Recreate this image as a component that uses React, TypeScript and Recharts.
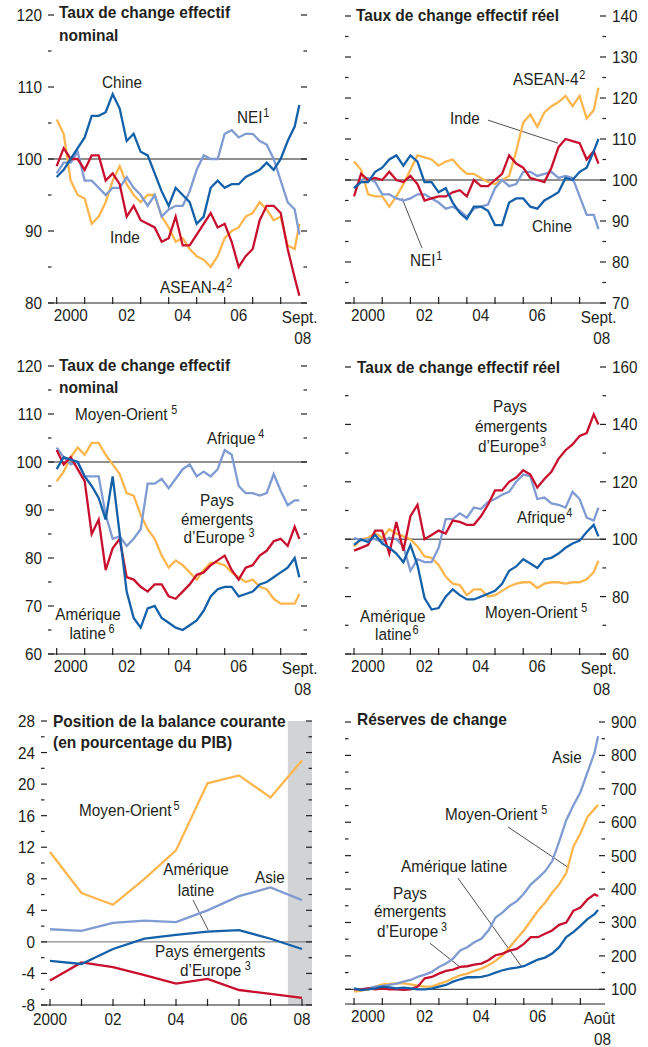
import React from "react";
import {
  LineChart,
  Line,
  XAxis,
  YAxis,
  ReferenceLine,
  ReferenceArea,
} from "recharts";

const SANS = "'Liberation Sans', Arial, sans-serif";
const INK = "#231f20";
const DARK_BLUE = "#1461a9";
const RED = "#c8102e";
const ORANGE = "#fdb64e";
const LIGHT_BLUE = "#7f9bd2";
const BAND = "#d1d3d4";

const PAGE_W = 648;
const PAGE_H = 1047;

// ---- time grids ----
const SEPT_08 = 2008 + 8 / 12;
const AOUT_08 = 2008 + 7.5 / 12;
const yearTicks = [2000, 2001, 2002, 2003, 2004, 2005, 2006, 2007, 2008];
const annualYears = [2000, 2001, 2002, 2003, 2004, 2005, 2006, 2007, 2008];

// quarterly points from 2000 T1, last point = end month
const quarterGrid = (last: number) =>
  Array.from({ length: 36 }, (_, i) => (i < 35 ? 2000 + i / 4 : last));

// ---- Asie : taux de change effectif nominal ----
const nomChine = [97.5, 98.5, 100, 101.5, 103, 106, 106, 106.5, 109, 107, 102.5, 103.5, 101, 100.5, 98, 95.5, 93.5, 96, 95, 94, 91, 92, 96, 97, 96, 96.5, 96.5, 97.5, 98, 98.5, 99.5, 98.5, 100, 102.5, 104.5, 107.5];
const nomNei = [98, 99.5, 99.5, 101, 97, 97, 96, 95, 96, 96, 97.5, 96, 95, 93.5, 95, 92, 93, 93.5, 93.5, 95.5, 98.5, 100.5, 100, 100, 103.5, 104, 103, 103.5, 103.5, 102.5, 102, 100, 97, 94, 93, 89.5];
const nomInde = [99, 101.5, 100, 100, 98.5, 100.5, 100.5, 97, 98, 96.5, 92, 93.5, 91.5, 91, 90.5, 88.5, 89, 92, 88, 88, 89.5, 91, 92.5, 90.5, 91, 88.5, 85, 86.5, 87.5, 91.5, 93.5, 93.5, 92.5, 87.5, 83.5, 81];
const nomAsean = [105.5, 103.5, 97, 95, 94.5, 91, 92, 94, 97, 99, 96.5, 95, 94, 95, 95, 92, 90.5, 88.5, 89, 87.5, 86.5, 86, 85, 86.5, 89, 90, 90.5, 92, 92.5, 94, 93, 91.5, 92, 88, 87.5, 91];

// ---- Asie : taux de change effectif réel ----
const reelAsean = [104.5, 102.5, 96.5, 96, 96, 93.5, 96, 99, 102.5, 106, 105.5, 105, 103.5, 104.5, 105, 103, 101.5, 101.5, 100.5, 99.5, 99, 100, 101, 107, 114, 116, 113, 116.5, 118, 119, 120.5, 118, 120.5, 115, 117, 122.5];
const reelInde = [96, 101.5, 100, 100.5, 100, 102, 100, 99.5, 101, 99, 95, 95.5, 96, 96, 97, 97.5, 96, 100, 98.5, 98.5, 100, 101.5, 106, 104, 103, 100.5, 100, 99.5, 103, 108, 110, 109.5, 109, 105, 107, 104];
const reelChine = [98, 99.5, 99.5, 102, 103, 105, 106, 103.5, 106, 104.5, 99.5, 99.5, 97, 98, 94.5, 92, 90.5, 93.5, 93.5, 92.5, 89, 89, 94.5, 95.5, 95.5, 93.5, 93, 95, 96, 97, 100.5, 100, 102, 103, 107, 110];
const reelNei = [98, 100, 100.5, 99.5, 96.5, 96.5, 95.5, 95, 95.5, 96.5, 96.5, 95.5, 94.5, 93, 93.5, 92.5, 91, 93, 93.5, 94, 98, 100, 98.5, 99, 102, 102, 101, 101.5, 102, 100.5, 101, 100.5, 96, 91.5, 91.5, 88];

// ---- autres régions : nominal ----
const nomMoyenOrient = [96, 98, 101, 103, 101.5, 104, 104, 101.5, 99.5, 97.5, 93.5, 93, 89, 86, 84, 80.5, 78, 79.5, 78.5, 77, 75.5, 77.5, 79, 79, 78.5, 77, 76, 75, 75.5, 74, 73.5, 71.5, 70.5, 70.5, 70.5, 72.5];
const nomAfrique = [103, 101, 99.5, 100, 97, 97, 97, 89, 84, 84.5, 82.5, 84, 86, 95.5, 95.5, 96.5, 94.5, 96.5, 98.5, 99.5, 97, 98, 97, 98.5, 102.5, 101.5, 95, 93.5, 93.5, 93, 93.5, 97.5, 94, 91, 92, 92];
const nomEurope = [102.5, 99.5, 101, 98.5, 96, 85, 88, 77.5, 82, 84, 76, 75.5, 74, 73, 74.5, 74.5, 72, 71.5, 73, 74.5, 76.5, 77, 78.5, 79.5, 80.5, 77.5, 75.5, 78, 78.5, 80.5, 81.5, 83.5, 84, 82.5, 86.5, 84];
const nomAmLatine = [98.5, 101, 100.5, 100, 97, 95, 92.5, 88, 97, 85, 73, 67.5, 65.5, 69.5, 70, 67.5, 66.5, 65.5, 65, 66, 67, 69, 72, 73.5, 74, 74, 72, 72.5, 73, 74.5, 75, 76, 77, 78, 80, 76];

// ---- autres régions : réel ----
const reelEurope = [96, 97, 98, 103, 103, 95, 106, 96, 108, 112, 100, 101.5, 103, 102, 106.5, 106, 105, 105, 108, 112, 117, 117, 120, 121.5, 124, 122.5, 118, 121, 123.5, 128, 131, 133, 136, 137, 143.5, 140];
const reelAfrique = [100.5, 99.5, 100, 100, 99, 100.5, 100, 97.5, 89, 93, 92, 92, 97, 107, 107, 109, 107.5, 111, 110.5, 113, 114, 115.5, 116.5, 120, 122.5, 122, 114, 114.5, 112.5, 112, 111, 116.5, 114, 107.5, 106.5, 111];
const reelMoyenOrient = [97.5, 100, 100.5, 102, 100.5, 103.5, 102, 101, 100, 97.5, 94, 93.5, 91, 87, 84.5, 84, 80.5, 82.5, 82.5, 80, 80.5, 82, 83.5, 84.5, 85, 85, 83, 84.5, 85, 85, 84.5, 85, 85, 86, 88.5, 92.5];
const reelAmLatine = [98, 100, 99, 101.5, 98.5, 97, 95, 92, 98, 91, 79.5, 75.5, 76, 80, 82.5, 80.5, 79, 79, 80, 81, 82, 84.5, 89, 90.5, 93, 91.5, 90, 93, 93.5, 95, 97, 98.5, 99.5, 102.5, 105, 101];

// ---- balance courante (% du PIB), annuel ----
const bcMoyenOrient = [11.4, 6.2, 4.7, 8.0, 11.6, 20.1, 21.1, 18.3, 23.0];
const bcAsie = [1.6, 1.4, 2.4, 2.7, 2.5, 4.0, 5.8, 6.9, 5.3];
const bcAmLatine = [-2.4, -2.8, -0.9, 0.4, 0.9, 1.3, 1.5, 0.4, -0.9];
const bcEurope = [-4.9, -2.6, -3.2, -4.2, -5.3, -4.7, -6.1, -6.6, -7.1];

// ---- réserves de change ----
const resAsie = [100, 100, 103, 108, 110, 113, 117, 123, 128, 137, 144, 152, 167, 177, 192, 216, 226, 241, 251, 276, 315, 330, 350, 364, 386, 414, 433, 453, 483, 542, 606, 650, 690, 749, 808, 857];
const resMoyenOrient = [93, 96, 100, 108, 115, 116, 118, 118, 115, 111, 108, 108, 116, 123, 133, 142, 147, 155, 162, 172, 185, 202, 226, 251, 276, 305, 335, 359, 389, 414, 448, 527, 566, 616, 640, 652];
const resEurope = [100, 100, 103, 100, 103, 100, 100, 98, 100, 108, 133, 137, 147, 155, 159, 167, 169, 174, 177, 187, 202, 207, 216, 221, 236, 256, 256, 266, 276, 293, 300, 335, 345, 369, 384, 379];
const resAmLatine = [103, 98, 100, 103, 108, 106, 103, 105, 103, 100, 100, 102, 108, 113, 123, 130, 136, 136, 137, 142, 150, 157, 162, 165, 169, 179, 189, 195, 207, 226, 256, 271, 290, 310, 325, 337];

const range = (a: number, b: number, step: number) => {
  const out: number[] = [];
  for (let v = a; v <= b + 1e-9; v += step) out.push(Math.round(v * 100) / 100);
  return out;
};

const buildRows = (times: number[], cols: Record<string, number[]>) =>
  times.map((t, i) => {
    const row: Record<string, number> = { t };
    Object.keys(cols).forEach((k) => {
      row[k] = cols[k][i];
    });
    return row;
  });

// condensed text: Liberation Sans squeezed horizontally
function CText({
  x,
  y,
  anchor = "start",
  size = 17,
  bold = false,
  sx = 0.9,
  children,
}: {
  x: number;
  y: number;
  anchor?: "start" | "middle" | "end";
  size?: number;
  bold?: boolean;
  sx?: number;
  children: React.ReactNode;
}) {
  return (
    <text
      transform={`translate(${x},${y}) scale(${sx},1)`}
      textAnchor={anchor}
      fontFamily={SANS}
      fontSize={size}
      fontWeight={bold ? 700 : 400}
      fill={INK}
    >
      {children}
    </text>
  );
}

type Box = { left: number; right: number; top: number; bottom: number };
type Seg = [{ x: number; y: number }, { x: number; y: number }];

type PanelProps = {
  box: Box;
  data: Record<string, number>[];
  series: { key: string; color: string }[];
  xDomain: [number, number];
  xLabel: (year: number, x: number, y: number) => React.ReactNode;
  yDomain: [number, number];
  yTicks: number[];
  yMajor: number;
  side: "left" | "right";
  refY: number;
  refColor?: string;
  leaders?: Seg[];
  band?: [number, number];
};

const Y_W = 30;
const X_H = 30;

function Panel(p: PanelProps) {
  const { box } = p;
  const margin = {
    top: box.top,
    bottom: PAGE_H - box.bottom - X_H,
    left: p.side === "left" ? box.left - Y_W : box.left,
    right: p.side === "right" ? PAGE_W - box.right - Y_W : PAGE_W - box.right,
  };

  const yTick = (props: any) => {
    const y = props.y;
    const v = props.payload.value;
    const major = Math.abs(v % p.yMajor) < 1e-6;
    const len = major ? 6 : 3.5;
    return (
      <g>
        <line x1={box.left} x2={box.left + len} y1={y} y2={y} stroke={INK} strokeWidth={1.2} />
        <line x1={box.right - len} x2={box.right} y1={y} y2={y} stroke={INK} strokeWidth={1.2} />
        {major && (
          <CText
            x={p.side === "left" ? box.left - 6 : box.right + 6}
            y={y + 6}
            anchor={p.side === "left" ? "end" : "start"}
          >
            {v}
          </CText>
        )}
      </g>
    );
  };

  const xTick = (props: any) => {
    const x = props.x;
    return (
      <g>
        <line x1={x} x2={x} y1={box.bottom - 6} y2={box.bottom + 1} stroke={INK} strokeWidth={1.2} />
        {p.xLabel(props.payload.value, x, box.bottom)}
      </g>
    );
  };

  return (
    <div style={{ position: "absolute", left: 0, top: 0 }}>
      <LineChart width={PAGE_W} height={PAGE_H} data={p.data} margin={margin}>
        {p.band && (
          <ReferenceArea
            x1={p.band[0]}
            x2={p.band[1]}
            y1={p.yDomain[0]}
            y2={p.yDomain[1]}
            fill={BAND}
            fillOpacity={1}
            stroke="none"
            ifOverflow="visible"
          />
        )}
        <XAxis
          dataKey="t"
          type="number"
          domain={p.xDomain}
          allowDataOverflow
          ticks={yearTicks}
          interval={0}
          tickLine={false}
          tickSize={0}
          tickMargin={0}
          axisLine={{ stroke: INK, strokeWidth: 1.2 }}
          height={X_H}
          tick={xTick}
        />
        <YAxis
          type="number"
          orientation={p.side}
          domain={p.yDomain}
          allowDataOverflow
          ticks={p.yTicks}
          interval={0}
          tickLine={false}
          tickSize={0}
          tickMargin={0}
          axisLine={false}
          width={Y_W}
          tick={yTick}
        />
        <ReferenceLine y={p.refY} stroke={p.refColor ?? INK} strokeWidth={1} />
        {(p.leaders ?? []).map((s, i) => (
          <ReferenceLine key={i} segment={s} stroke={INK} strokeWidth={0.8} ifOverflow="visible" />
        ))}
        {p.series.map((s) => (
          <Line
            key={s.key}
            type="linear"
            dataKey={s.key}
            stroke={s.color}
            strokeWidth={2.3}
            dot={false}
            isAnimationActive={false}
          />
        ))}
      </LineChart>
    </div>
  );
}

const monthlyLabel = (endWord: string) => (year: number, x: number, y: number) => {
  if (year === 2008) {
    return (
      <g>
        <CText x={x + 19} y={y + 20} anchor="middle">{endWord}</CText>
        <CText x={x + 22} y={y + 41} anchor="middle">08</CText>
      </g>
    );
  }
  if (year % 2 !== 0) return null;
  const txt = year === 2000 ? "2000" : String(year).slice(2);
  return (
    <CText x={x + 14} y={y + 18} anchor="middle">
      {txt}
    </CText>
  );
};

const annualLabel = (year: number, x: number, y: number) => {
  if (year % 2 !== 0) return null;
  const txt = year === 2000 ? "2000" : String(year).slice(2);
  return (
    <CText x={x} y={y + 20} anchor="middle">
      {txt}
    </CText>
  );
};

type Lbl = { x: number; y: number; t: string; sup?: string; dx?: number; a?: "start" | "middle" | "end"; b?: boolean };

const texts: Lbl[] = [
  // titres
  { x: 59, y: 18, t: "Taux de change effectif", b: true },
  { x: 59, y: 41, t: "nominal", b: true },
  { x: 356, y: 21, t: "Taux de change effectif réel", b: true },
  { x: 59, y: 371, t: "Taux de change effectif", b: true },
  { x: 59, y: 393, t: "nominal", b: true },
  { x: 357, y: 373, t: "Taux de change effectif réel", b: true },
  { x: 53, y: 727, t: "Position de la balance courante", b: true },
  { x: 53, y: 748, t: "(en pourcentage du PIB)", b: true },
  { x: 357, y: 725, t: "Réserves de change", b: true },
  // panneau 1
  { x: 102, y: 88, t: "Chine" },
  { x: 237, y: 123, t: "NEI", sup: "1" },
  { x: 110, y: 243, t: "Inde" },
  { x: 160, y: 293, t: "ASEAN-4", sup: "2" },
  // panneau 2
  { x: 513, y: 85, t: "ASEAN-4", sup: "2" },
  { x: 450, y: 124, t: "Inde" },
  { x: 532, y: 232, t: "Chine" },
  { x: 410, y: 266, t: "NEI", sup: "1" },
  // panneau 3
  { x: 75, y: 420, t: "Moyen-Orient", sup: "5", dx: 4 },
  { x: 207, y: 444, t: "Afrique", sup: "4", dx: 3 },
  { x: 217, y: 506, t: "Pays", a: "middle" },
  { x: 217, y: 525, t: "émergents", a: "middle" },
  { x: 219, y: 543, t: "d’Europe", sup: "3", dx: 4, a: "middle" },
  { x: 88, y: 620, t: "Amérique", a: "middle" },
  { x: 92, y: 639, t: "latine", sup: "6", dx: 3, a: "middle" },
  // panneau 4
  { x: 510, y: 412, t: "Pays", a: "middle" },
  { x: 511, y: 432, t: "émergents", a: "middle" },
  { x: 512, y: 452, t: "d’Europe", sup: "3", a: "middle" },
  { x: 517, y: 523, t: "Afrique", sup: "4" },
  { x: 485, y: 618, t: "Moyen-Orient", sup: "5", dx: 4 },
  { x: 360, y: 622, t: "Amérique" },
  { x: 375, y: 640, t: "latine", sup: "6" },
  // panneau 5
  { x: 79, y: 816, t: "Moyen-Orient", sup: "5", dx: 2 },
  { x: 196, y: 875, t: "Amérique", a: "middle" },
  { x: 196, y: 896, t: "latine", a: "middle" },
  { x: 255, y: 883, t: "Asie" },
  { x: 155, y: 957, t: "Pays émergents" },
  { x: 180, y: 976, t: "d’Europe", sup: "3", dx: 4 },
  // panneau 6
  { x: 552, y: 763, t: "Asie" },
  { x: 445, y: 820, t: "Moyen-Orient", sup: "5", dx: 4 },
  { x: 401, y: 872, t: "Amérique latine" },
  { x: 410, y: 899, t: "Pays", a: "middle" },
  { x: 410, y: 917, t: "émergents", a: "middle" },
  { x: 377, y: 937, t: "d’Europe", sup: "3", dx: 3 },
];

function Overlay() {
  return (
    <svg
      width={PAGE_W}
      height={PAGE_H}
      style={{ position: "absolute", left: 0, top: 0, pointerEvents: "none" }}
    >
      {texts.map((l, i) => (
        <CText
          key={i}
          x={l.x}
          y={l.y}
          anchor={l.a ?? "start"}
          size={l.b ? 16.5 : 17}
          bold={l.b}
          sx={l.b ? 0.94 : 0.9}
        >
          {l.t}
          {l.sup && (
            <tspan dx={l.dx ?? 1} dy={-6} fontSize={12}>
              {l.sup}
            </tspan>
          )}
        </CText>
      ))}
    </svg>
  );
}

export default function App() {
  const qTimes = quarterGrid(SEPT_08);
  const rTimes = quarterGrid(AOUT_08);

  const p1 = buildRows(qTimes, { asean: nomAsean, nei: nomNei, inde: nomInde, chine: nomChine });
  const p2 = buildRows(qTimes, { asean: reelAsean, nei: reelNei, inde: reelInde, chine: reelChine });
  const p3 = buildRows(qTimes, { mo: nomMoyenOrient, af: nomAfrique, eu: nomEurope, al: nomAmLatine });
  const p4 = buildRows(qTimes, { mo: reelMoyenOrient, af: reelAfrique, eu: reelEurope, al: reelAmLatine });
  const p5 = buildRows(annualYears, { mo: bcMoyenOrient, as: bcAsie, eu: bcEurope, al: bcAmLatine });
  const p6 = buildRows(rTimes, { mo: resMoyenOrient, as: resAsie, eu: resEurope, al: resAmLatine });

  const asiaSeries = [
    { key: "asean", color: ORANGE },
    { key: "nei", color: LIGHT_BLUE },
    { key: "inde", color: RED },
    { key: "chine", color: DARK_BLUE },
  ];
  const regionSeries = [
    { key: "mo", color: ORANGE },
    { key: "af", color: LIGHT_BLUE },
    { key: "eu", color: RED },
    { key: "al", color: DARK_BLUE },
  ];
  const worldSeries = [
    { key: "mo", color: ORANGE },
    { key: "as", color: LIGHT_BLUE },
    { key: "eu", color: RED },
    { key: "al", color: DARK_BLUE },
  ];

  return (
    <div
      style={{
        position: "absolute",
        left: 0,
        top: 0,
        width: PAGE_W,
        height: PAGE_H,
        background: "#fff",
        overflow: "hidden",
      }}
    >
      <Panel
        box={{ left: 48, right: 307, top: 15, bottom: 303 }}
        data={p1}
        series={asiaSeries}
        xDomain={[1999.69, 2008.94]}
        xLabel={monthlyLabel("Sept.")}
        yDomain={[80, 120]}
        yTicks={range(80, 120, 5)}
        yMajor={10}
        side="left"
        refY={100}
      />
      <Panel
        box={{ left: 345, right: 606, top: 16, bottom: 303 }}
        data={p2}
        series={asiaSeries}
        xDomain={[1999.68, 2008.935]}
        xLabel={monthlyLabel("Sept.")}
        yDomain={[70, 140]}
        yTicks={range(70, 140, 5)}
        yMajor={10}
        side="right"
        refY={100}
        leaders={[
          [{ x: 2004.75, y: 114.6 }, { x: 2007.23, y: 109.0 }],
          [{ x: 2002.41, y: 83.4 }, { x: 2001.7, y: 95.6 }],
        ]}
      />
      <Panel
        box={{ left: 48, right: 307, top: 366, bottom: 654 }}
        data={p3}
        series={regionSeries}
        xDomain={[1999.69, 2008.94]}
        xLabel={monthlyLabel("Sept.")}
        yDomain={[60, 120]}
        yTicks={range(60, 120, 5)}
        yMajor={10}
        side="left"
        refY={100}
      />
      <Panel
        box={{ left: 345, right: 606, top: 367, bottom: 654 }}
        data={p4}
        series={regionSeries}
        xDomain={[1999.68, 2008.935]}
        xLabel={monthlyLabel("Sept.")}
        yDomain={[60, 160]}
        yTicks={range(60, 160, 10)}
        yMajor={20}
        side="right"
        refY={100}
      />
      <Panel
        box={{ left: 41, right: 312, top: 721, bottom: 1005 }}
        data={p5}
        series={worldSeries}
        xDomain={[1999.714, 2008.317]}
        xLabel={annualLabel}
        yDomain={[-8, 28]}
        yTicks={range(-8, 28, 2)}
        yMajor={4}
        side="left"
        refY={0}
        refColor="#6d6e71"
        band={[2007.55, 2008.317]}
        leaders={[[{ x: 2004.54, y: 5.3 }, { x: 2005.02, y: 1.5 }]]}
      />
      <Panel
        box={{ left: 345, right: 605, top: 722, bottom: 1004 }}
        data={p6}
        series={worldSeries}
        xDomain={[1999.68, 2008.87]}
        xLabel={monthlyLabel("Août")}
        yDomain={[56, 900]}
        yTicks={range(100, 900, 50)}
        yMajor={100}
        side="right"
        refY={100}
        leaders={[
          [{ x: 2005.44, y: 586 }, { x: 2007.6, y: 463 }],
          [{ x: 2003.67, y: 433 }, { x: 2005.93, y: 167 }],
          [{ x: 2002.68, y: 238 }, { x: 2003.74, y: 167 }],
        ]}
      />
      <Overlay />
    </div>
  );
}
